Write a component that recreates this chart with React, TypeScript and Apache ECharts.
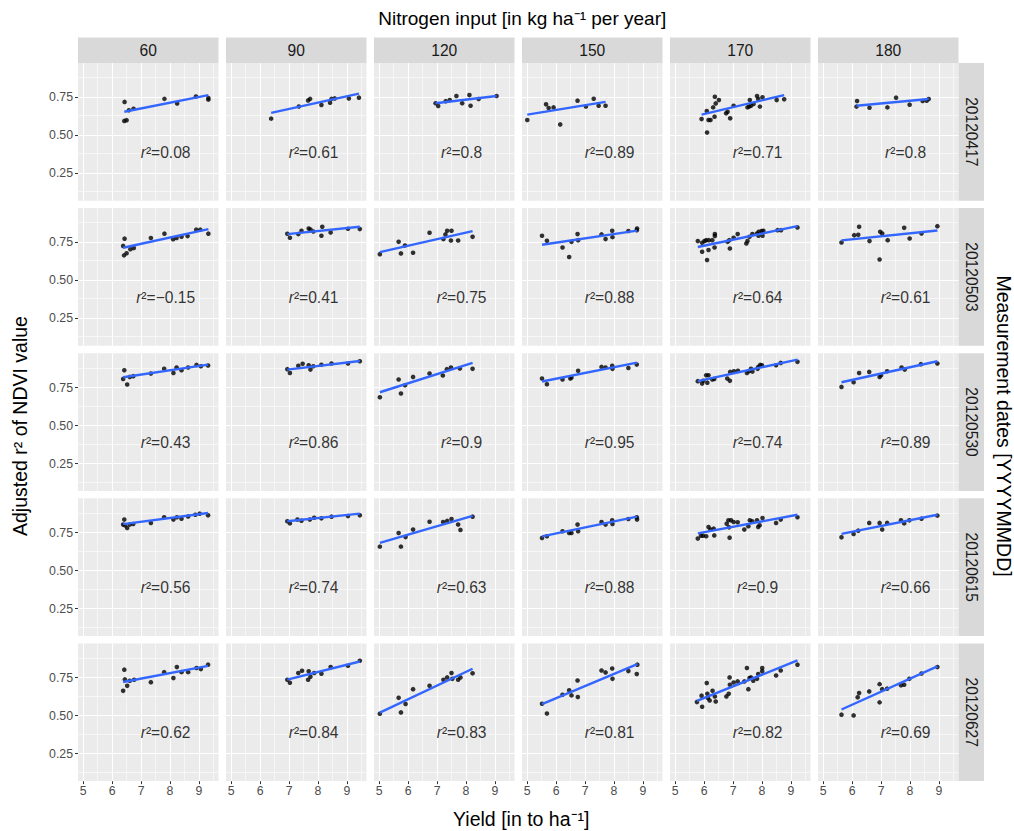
import React, { useEffect, useRef } from 'react';
import * as echarts from 'echarts';

// ---------- data ----------
const nitrogenRates = ['60', '90', '120', '150', '170', '180'];
const measurementDates = ['20120417', '20120503', '20120530', '20120615', '20120627'];
const xTicks = [5, 6, 7, 8, 9];
const xMinorGrid = [5.5, 6.5, 7.5, 8.5, 9.5];
const yTicks = [0.25, 0.5, 0.75];
const yMinorGrid = [0.125, 0.375, 0.625, 0.875];

// points per date, one list per nitrogen rate (60, 90, 120, 150, 170, 180)
const pts20120417 = [
  [[6.43, 0.72], [6.42, 0.595], [6.5, 0.6], [6.58, 0.665], [6.74, 0.675], [7.81, 0.74], [8.25, 0.71], [8.9, 0.755], [9.33, 0.735], [9.33, 0.745]],
  [[6.38, 0.61], [7.34, 0.69], [7.66, 0.73], [7.73, 0.74], [8.12, 0.7], [8.42, 0.715], [8.47, 0.74], [8.58, 0.743], [9.07, 0.743], [9.42, 0.748]],
  [[6.95, 0.711], [7.04, 0.693], [7.3, 0.725], [7.44, 0.732], [7.67, 0.759], [7.87, 0.711], [8.12, 0.765], [8.16, 0.695], [8.44, 0.739], [9.06, 0.759]],
  [[5.0, 0.601], [5.65, 0.704], [5.74, 0.68], [5.91, 0.684], [6.14, 0.572], [6.74, 0.728], [7.03, 0.689], [7.3, 0.741], [7.47, 0.695], [7.71, 0.695]],
  [[5.91, 0.607], [6.1, 0.518], [6.09, 0.66], [6.15, 0.601], [6.22, 0.601], [6.31, 0.684], [6.37, 0.754], [6.4, 0.71], [6.51, 0.732], [6.36, 0.623], [6.76, 0.645], [6.81, 0.656], [6.9, 0.612], [7.02, 0.695], [7.5, 0.684], [7.56, 0.689], [7.62, 0.695], [7.58, 0.732], [7.71, 0.706], [7.83, 0.759], [7.87, 0.739], [8.02, 0.75], [7.93, 0.689], [8.51, 0.732], [8.77, 0.737]],
  [[6.17, 0.726], [6.15, 0.689], [6.6, 0.682], [7.22, 0.684], [7.52, 0.748], [7.99, 0.702], [8.44, 0.726], [8.58, 0.728], [8.65, 0.739]],
];
const pts20120503 = [
  [[6.38, 0.727], [6.43, 0.775], [6.41, 0.665], [6.5, 0.679], [6.63, 0.705], [6.75, 0.713], [7.34, 0.779], [7.81, 0.808], [8.11, 0.771], [8.23, 0.78], [8.4, 0.788], [8.61, 0.792], [8.91, 0.834], [9.05, 0.834], [9.33, 0.808]],
  [[6.94, 0.807], [7.03, 0.781], [7.32, 0.805], [7.43, 0.827], [7.68, 0.842], [7.74, 0.835], [7.84, 0.822], [8.12, 0.794], [8.15, 0.853], [8.44, 0.816], [9.04, 0.84], [9.45, 0.838]],
  [[5.02, 0.673], [5.67, 0.754], [5.75, 0.678], [5.89, 0.73], [6.17, 0.682], [6.74, 0.814], [7.22, 0.772], [7.29, 0.803], [7.35, 0.827], [7.5, 0.827], [7.48, 0.763], [7.73, 0.763], [8.23, 0.787]],
  [[5.51, 0.794], [5.68, 0.761], [6.22, 0.717], [6.45, 0.654], [6.53, 0.754], [6.74, 0.805], [6.76, 0.765], [7.57, 0.803], [7.71, 0.772], [7.94, 0.827], [7.95, 0.785], [8.5, 0.825], [8.79, 0.831], [8.8, 0.842]],
  [[5.78, 0.759], [5.93, 0.748], [5.93, 0.689], [6.01, 0.759], [6.07, 0.765], [6.1, 0.634], [6.15, 0.7], [6.16, 0.765], [6.28, 0.765], [6.37, 0.805], [6.37, 0.792], [6.36, 0.717], [6.81, 0.754], [6.87, 0.765], [6.89, 0.71], [7.02, 0.781], [7.16, 0.805], [7.46, 0.743], [7.5, 0.759], [7.57, 0.787], [7.67, 0.805], [7.83, 0.809], [7.89, 0.82], [7.99, 0.825], [8.05, 0.827], [7.88, 0.794], [8.02, 0.794], [8.54, 0.831], [8.66, 0.831], [9.23, 0.849]],
  [[5.63, 0.75], [6.07, 0.798], [6.21, 0.8], [6.24, 0.853], [6.6, 0.759], [6.97, 0.82], [7.04, 0.809], [6.95, 0.638], [7.23, 0.765], [7.8, 0.846], [7.99, 0.776], [8.4, 0.809], [8.95, 0.857]],
];
const pts20120530 = [
  [[6.42, 0.864], [6.38, 0.807], [6.52, 0.77], [6.61, 0.82], [6.73, 0.825], [7.34, 0.842], [7.8, 0.873], [8.12, 0.846], [8.23, 0.882], [8.4, 0.864], [8.63, 0.882], [8.92, 0.899], [9.07, 0.89], [9.32, 0.895]],
  [[6.94, 0.871], [7.03, 0.846], [7.32, 0.893], [7.47, 0.906], [7.68, 0.897], [7.74, 0.868], [7.84, 0.89], [8.12, 0.9], [8.47, 0.908], [9.04, 0.908], [9.45, 0.923]],
  [[5.02, 0.686], [5.67, 0.803], [5.75, 0.711], [5.89, 0.765], [6.17, 0.82], [6.74, 0.842], [7.2, 0.829], [7.34, 0.871], [7.48, 0.882], [7.79, 0.875], [8.23, 0.873]],
  [[5.51, 0.809], [5.68, 0.772], [6.22, 0.803], [6.49, 0.809], [6.53, 0.816], [6.76, 0.86], [7.57, 0.886], [7.71, 0.882], [7.94, 0.893], [7.95, 0.873], [8.5, 0.879], [8.79, 0.901]],
  [[5.78, 0.792], [5.93, 0.776], [5.97, 0.794], [6.07, 0.831], [6.15, 0.831], [6.11, 0.782], [6.28, 0.803], [6.35, 0.807], [6.8, 0.809], [6.89, 0.794], [6.9, 0.853], [7.03, 0.857], [7.17, 0.86], [7.48, 0.846], [7.55, 0.857], [7.67, 0.855], [7.62, 0.873], [7.87, 0.886], [7.94, 0.899], [8.0, 0.897], [7.85, 0.873], [8.49, 0.897], [8.65, 0.912], [9.23, 0.919]],
  [[5.63, 0.754], [6.05, 0.785], [6.24, 0.846], [6.59, 0.853], [6.95, 0.82], [7.0, 0.831], [7.21, 0.857], [7.71, 0.882], [7.82, 0.868], [8.38, 0.904], [8.95, 0.908]],
];
const pts20120615 = [
  [[6.42, 0.836], [6.38, 0.803], [6.44, 0.798], [6.52, 0.781], [6.61, 0.803], [6.73, 0.807], [7.34, 0.814], [7.8, 0.851], [8.12, 0.836], [8.24, 0.851], [8.4, 0.842], [8.63, 0.857], [8.88, 0.868], [9.03, 0.875], [9.32, 0.864]],
  [[6.94, 0.825], [7.03, 0.811], [7.29, 0.836], [7.43, 0.829], [7.72, 0.836], [7.87, 0.848], [8.12, 0.844], [8.47, 0.855], [9.04, 0.859], [9.45, 0.864]],
  [[5.02, 0.658], [5.67, 0.748], [5.75, 0.658], [5.91, 0.721], [6.17, 0.77], [6.74, 0.822], [7.21, 0.82], [7.35, 0.827], [7.5, 0.84], [7.73, 0.803], [7.81, 0.768], [8.23, 0.855]],
  [[5.51, 0.715], [5.68, 0.726], [6.22, 0.759], [6.45, 0.748], [6.53, 0.748], [6.74, 0.803], [6.76, 0.759], [7.57, 0.82], [7.71, 0.803], [7.94, 0.831], [7.95, 0.807], [8.5, 0.84], [8.79, 0.851], [8.8, 0.836]],
  [[5.78, 0.711], [5.89, 0.73], [5.96, 0.73], [6.07, 0.726], [6.15, 0.787], [6.22, 0.77], [6.33, 0.776], [6.35, 0.732], [6.78, 0.809], [6.84, 0.831], [6.93, 0.831], [7.02, 0.82], [6.88, 0.717], [6.86, 0.785], [7.16, 0.818], [7.39, 0.77], [7.53, 0.792], [7.58, 0.831], [7.66, 0.825], [7.83, 0.831], [7.87, 0.787], [7.92, 0.798], [8.02, 0.846], [8.49, 0.814], [8.65, 0.836], [9.23, 0.851]],
  [[5.63, 0.719], [6.05, 0.741], [6.21, 0.763], [6.59, 0.814], [6.95, 0.814], [7.04, 0.77], [7.21, 0.814], [7.69, 0.831], [7.8, 0.811], [7.98, 0.831], [8.4, 0.842], [8.95, 0.862]],
];
const pts20120627 = [
  [[6.42, 0.803], [6.44, 0.739], [6.38, 0.664], [6.52, 0.697], [6.61, 0.73], [6.76, 0.737], [7.34, 0.721], [7.8, 0.787], [8.12, 0.748], [8.24, 0.82], [8.4, 0.787], [8.63, 0.787], [8.92, 0.814], [9.07, 0.807], [9.32, 0.836]],
  [[6.94, 0.737], [7.03, 0.717], [7.32, 0.781], [7.45, 0.796], [7.68, 0.792], [7.66, 0.737], [7.74, 0.757], [7.87, 0.781], [8.12, 0.776], [8.44, 0.82], [9.04, 0.829], [9.45, 0.862]],
  [[5.02, 0.513], [5.67, 0.618], [5.75, 0.522], [5.91, 0.577], [6.17, 0.675], [6.74, 0.697], [7.22, 0.737], [7.35, 0.752], [7.5, 0.781], [7.53, 0.743], [7.73, 0.737], [7.81, 0.752], [8.23, 0.779]],
  [[5.51, 0.579], [5.68, 0.515], [6.22, 0.638], [6.45, 0.667], [6.53, 0.634], [6.74, 0.732], [6.75, 0.623], [7.57, 0.798], [7.71, 0.785], [7.94, 0.811], [7.95, 0.743], [8.5, 0.794], [8.79, 0.774], [8.81, 0.836]],
  [[5.75, 0.59], [5.93, 0.559], [5.91, 0.632], [6.09, 0.715], [6.11, 0.645], [6.19, 0.601], [6.13, 0.616], [6.29, 0.664], [6.37, 0.627], [6.4, 0.594], [6.77, 0.627], [6.85, 0.645], [6.88, 0.752], [6.89, 0.704], [7.02, 0.719], [7.16, 0.726], [7.39, 0.726], [7.48, 0.814], [7.53, 0.675], [7.57, 0.748], [7.62, 0.752], [7.7, 0.73], [7.83, 0.743], [7.87, 0.774], [8.01, 0.814], [8.01, 0.792], [8.49, 0.765], [8.65, 0.798], [9.23, 0.836]],
  [[5.63, 0.507], [6.05, 0.502], [6.19, 0.621], [6.24, 0.649], [6.59, 0.66], [6.95, 0.708], [6.95, 0.588], [7.04, 0.675], [7.21, 0.678], [7.69, 0.7], [7.8, 0.704], [7.98, 0.743], [8.4, 0.778], [8.95, 0.82]],
];

// fitted line end points [x0, y0, x1, y1]
const fits20120417 = [[6.42, 0.655, 9.33, 0.765], [6.38, 0.648, 9.42, 0.774], [6.95, 0.711, 9.06, 0.759], [5.0, 0.636, 7.71, 0.72], [5.91, 0.636, 8.77, 0.765], [6.15, 0.695, 8.65, 0.739]];
const fits20120503 = [[6.38, 0.715, 9.33, 0.838], [6.94, 0.805, 9.45, 0.853], [5.02, 0.686, 8.23, 0.825], [5.51, 0.735, 8.8, 0.828], [5.78, 0.72, 9.23, 0.857], [5.63, 0.764, 8.95, 0.829]];
const fits20120530 = [[6.38, 0.818, 9.32, 0.901], [6.94, 0.868, 9.45, 0.925], [5.02, 0.719, 8.23, 0.912], [5.51, 0.79, 8.8, 0.914], [5.78, 0.792, 9.23, 0.934], [5.63, 0.785, 8.95, 0.923]];
const fits20120615 = [[6.38, 0.806, 9.32, 0.879], [6.94, 0.825, 9.45, 0.875], [5.02, 0.683, 8.23, 0.86], [5.51, 0.725, 8.8, 0.855], [5.78, 0.745, 9.23, 0.868], [5.63, 0.742, 8.95, 0.868]];
const fits20120627 = [[6.38, 0.722, 9.32, 0.828], [6.94, 0.738, 9.45, 0.857], [5.02, 0.52, 8.23, 0.809], [5.51, 0.577, 8.81, 0.84], [5.75, 0.598, 9.23, 0.864], [5.63, 0.541, 8.95, 0.825]];

const r2_20120417 = ['0.08', '0.61', '0.8', '0.89', '0.71', '0.8'];
const r2_20120503 = ['\u22120.15', '0.41', '0.75', '0.88', '0.64', '0.61'];
const r2_20120530 = ['0.43', '0.86', '0.9', '0.95', '0.74', '0.89'];
const r2_20120615 = ['0.56', '0.74', '0.63', '0.88', '0.9', '0.66'];
const r2_20120627 = ['0.62', '0.84', '0.83', '0.81', '0.82', '0.69'];

const allPoints = [pts20120417, pts20120503, pts20120530, pts20120615, pts20120627];
const allFits = [fits20120417, fits20120503, fits20120530, fits20120615, fits20120627];
const allR2 = [r2_20120417, r2_20120503, r2_20120530, r2_20120615, r2_20120627];

// ---------- layout ----------
const FONT = '"Liberation Sans", Arial, Helvetica, sans-serif';
const PANEL_L = 78;
const PANEL_T = 63;
const PANEL_W = 140.5;
const PANEL_H = 137.7;
const GAP_X = 7.5;
const GAP_Y = 7.4;
const STRIP = 25.5;
const X_MIN = 4.817;
const X_MAX = 9.681;
const Y_MIN = 0.07;
const Y_MAX = 0.976;
const LABEL_X = 7.85;
const LABEL_Y = 0.39;
const TITLE_SIZE = 19.5;
const STRIP_SIZE = 15.6;
const TICK_SIZE = 12.3;

function buildOption() {
  const grid: any[] = [];
  const xAxis: any[] = [];
  const yAxis: any[] = [];
  const series: any[] = [];
  const graphic: any[] = [];

  const gridLines = [
    ...xTicks.map((v) => ({ xAxis: v, lineStyle: { width: 1.1 } })),
    ...xMinorGrid.map((v) => ({ xAxis: v, lineStyle: { width: 0.55 } })),
    ...yTicks.map((v) => ({ yAxis: v, lineStyle: { width: 1.1 } })),
    ...yMinorGrid.map((v) => ({ yAxis: v, lineStyle: { width: 0.55 } })),
  ];

  const nRows = measurementDates.length;
  const nCols = nitrogenRates.length;

  measurementDates.forEach((date, r) => {
    nitrogenRates.forEach((rate, c) => {
      const i = r * nCols + c;
      const left = PANEL_L + c * (PANEL_W + GAP_X);
      const top = PANEL_T + r * (PANEL_H + GAP_Y);
      grid.push({
        left, top, width: PANEL_W, height: PANEL_H,
        show: true, backgroundColor: '#EBEBEB', borderWidth: 0,
      });
      const bottomRow = r === nRows - 1;
      const leftCol = c === 0;
      xAxis.push({
        type: 'value', gridIndex: i, min: X_MIN, max: X_MAX,
        axisLine: { show: false },
        splitLine: { show: false },
        axisTick: { show: bottomRow, length: 3, customValues: xTicks, lineStyle: { color: '#333333', width: 1 } },
        axisLabel: {
          show: bottomRow, customValues: xTicks, margin: 4, color: '#4D4D4D', fontSize: TICK_SIZE, fontFamily: FONT,
          formatter: (v: number) => String(v),
        },
      });
      yAxis.push({
        type: 'value', gridIndex: i, min: Y_MIN, max: Y_MAX,
        axisLine: { show: false },
        splitLine: { show: false },
        axisTick: { show: leftCol, length: 3, customValues: yTicks, lineStyle: { color: '#333333', width: 1 } },
        axisLabel: {
          show: leftCol, customValues: yTicks, margin: 5, color: '#4D4D4D', fontSize: TICK_SIZE, fontFamily: FONT,
          formatter: (v: number) => v.toFixed(2),
        },
      });
      series.push({
        type: 'scatter', xAxisIndex: i, yAxisIndex: i, data: [], silent: true, z: 1,
        markLine: {
          silent: true, symbol: ['none', 'none'], label: { show: false }, animation: false,
          lineStyle: { color: '#FFFFFF', type: 'solid', width: 1.1 },
          emphasis: { disabled: true },
          data: gridLines,
        },
      });
      series.push({
        type: 'scatter', xAxisIndex: i, yAxisIndex: i, z: 10, silent: true,
        data: allPoints[r][c], symbolSize: 4.6, itemStyle: { color: '#000000' },
      });
      const f = allFits[r][c];
      series.push({
        type: 'line', xAxisIndex: i, yAxisIndex: i, z: 11, silent: true,
        data: [[f[0], f[1]], [f[2], f[3]]], showSymbol: false, symbol: 'none',
        lineStyle: { color: '#3366FF', width: 2.4 },
      });
      series.push({
        type: 'scatter', xAxisIndex: i, yAxisIndex: i, z: 12, silent: true,
        data: [[LABEL_X, LABEL_Y]], symbolSize: 0,
        label: {
          show: true, position: 'inside', color: '#000000', fontSize: STRIP_SIZE, fontFamily: FONT,
          formatter: '{i|r}\u00B2=' + allR2[r][c],
          rich: { i: { fontStyle: 'italic', fontSize: STRIP_SIZE, fontFamily: FONT, color: '#000000' } },
        },
      });

      // top strips
      if (r === 0) {
        graphic.push({ type: 'rect', shape: { x: left, y: PANEL_T - STRIP, width: PANEL_W, height: STRIP }, style: { fill: '#D9D9D9' }, silent: true });
        graphic.push({
          type: 'text', x: left + PANEL_W / 2, y: PANEL_T - STRIP / 2, silent: true,
          style: { text: rate, fill: '#1A1A1A', fontSize: STRIP_SIZE, fontFamily: FONT, align: 'center', verticalAlign: 'middle' },
        });
      }
      // right strips
      if (c === nCols - 1) {
        const sx = left + PANEL_W;
        graphic.push({ type: 'rect', shape: { x: sx, y: top, width: STRIP, height: PANEL_H }, style: { fill: '#D9D9D9' }, silent: true });
        graphic.push({
          type: 'text', x: sx + STRIP / 2, y: top + PANEL_H / 2, rotation: -Math.PI / 2, silent: true,
          style: { text: date, fill: '#1A1A1A', fontSize: STRIP_SIZE, fontFamily: FONT, align: 'center', verticalAlign: 'middle' },
        });
      }
    });
  });

  const panelsRight = PANEL_L + nCols * PANEL_W + (nCols - 1) * GAP_X;
  const panelsBottom = PANEL_T + nRows * PANEL_H + (nRows - 1) * GAP_Y;
  const cx = (PANEL_L + panelsRight) / 2;
  const cy = (PANEL_T + panelsBottom) / 2 + 4;

  graphic.push({
    type: 'text', x: cx + 4, y: 18, silent: true,
    style: { text: 'Nitrogen input [in kg ha\u207B\u00B9 per year]', fill: '#000000', fontSize: 19, fontFamily: FONT, align: 'center', verticalAlign: 'middle' },
  });
  graphic.push({
    type: 'text', x: cx + 3, y: 819, silent: true,
    style: { text: 'Yield [in to ha\u207B\u00B9]', fill: '#000000', fontSize: TITLE_SIZE, fontFamily: FONT, align: 'center', verticalAlign: 'middle' },
  });
  graphic.push({
    type: 'text', x: 20, y: cy, rotation: Math.PI / 2, silent: true,
    style: { text: 'Adjusted r\u00B2 of NDVI value', fill: '#000000', fontSize: TITLE_SIZE, fontFamily: FONT, align: 'center', verticalAlign: 'middle' },
  });
  graphic.push({
    type: 'text', x: 1004, y: cy, rotation: -Math.PI / 2, silent: true,
    style: { text: 'Measurement dates [YYYYMMDD]', fill: '#000000', fontSize: TITLE_SIZE, fontFamily: FONT, align: 'center', verticalAlign: 'middle' },
  });

  return {
    animation: false,
    backgroundColor: '#FFFFFF',
    grid, xAxis, yAxis, series, graphic,
  };
}

export default function App() {
  const ref = useRef<HTMLDivElement>(null);
  useEffect(() => {
    document.body.style.margin = '0';
    const chart = echarts.init(ref.current as HTMLDivElement, undefined, { renderer: 'svg' });
    chart.setOption(buildOption() as any);
    return () => chart.dispose();
  }, []);
  return <div ref={ref} style={{ width: 1014, height: 831, overflow: 'hidden' }} />;
}
